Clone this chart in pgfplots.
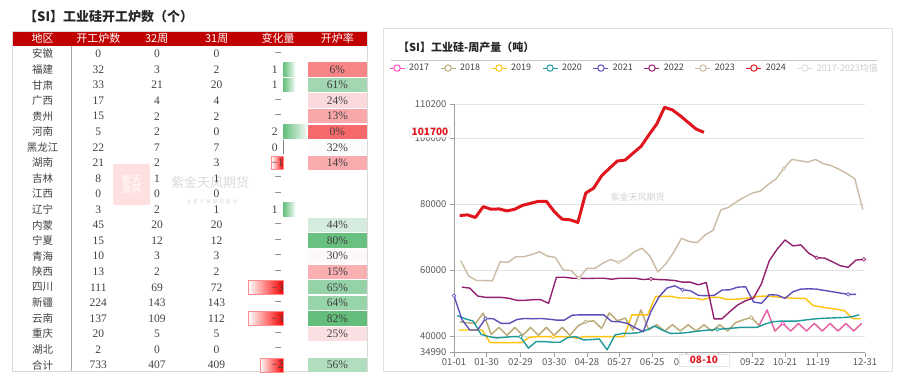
\documentclass[border=0pt]{standalone}
\usepackage{pgfplots}
\pgfplotsset{compat=1.18}
\usepackage{fontspec}
\setmainfont{Liberation Serif}
\newfontfamily\cjk{Noto Sans CJK SC}
\definecolor{hdr}{HTML}{C00000}
\definecolor{cr}{HTML}{F8696B}
\definecolor{cw}{HTML}{FCFCFF}
\definecolor{cg}{HTML}{63BE7B}
\definecolor{tc}{HTML}{404040}
\definecolor{c17}{HTML}{FF4FC3}
\definecolor{c18}{HTML}{BBAB77}
\definecolor{c19}{HTML}{FFC20E}
\definecolor{c20}{HTML}{1E9A9A}
\definecolor{c21}{HTML}{5E4FB8}
\definecolor{c22}{HTML}{92206E}
\definecolor{c23}{HTML}{CBBBA5}
\definecolor{c24}{HTML}{E0161E}
\newcommand\tsz{\fontsize{10.5}{12}\selectfont}
\newcommand\tnum{\fontsize{11.5}{13}\selectfont}
\newcommand\trow[5]{%
 \node[font=\cjk\tsz,text=tc] at (42.7,#1) {#2};
 \node[font=\tnum,text=tc] at (98.3,#1) {#3};
 \node[font=\tnum,text=tc] at (157,#1) {#4};
 \node[font=\tnum,text=tc] at (216.5,#1) {#5};}
\newcommand\rcell[3]{\fill[#3] (307.5,#1-7.2) rectangle (366.5,#1+7.2);
 \node[font=\tnum,text=tc] at (337.3,#1) {#2\%};}
\newcommand\dashc[1]{\node[font=\tnum,text=tc] at (278.3,#1) {–};}
\newcommand\posc[2]{\shade[left color=cg, right color=cg!8!white] (283.3,#1-6.8) rectangle ({283.3+11.7*#2},#1+6.8);
 \draw[cg,line width=0.6pt] (283.3,#1-6.8) -- (283.3,#1+6.8);
 \node[font=\tnum,text=tc,anchor=east,inner sep=0pt] at (277.8,#1) {#2};}
\newcommand\negc[2]{\shade[left color=white, right color=red] ({283.3-11.7*#2},#1-6.8) rectangle (283.3,#1+6.8);
 \draw[red!45,line width=0.4pt] ({283.3-11.7*#2},#1-6.8) rectangle (283.3,#1+6.8);
 \node[font=\tnum,text=tc,anchor=east,inner sep=0pt] at (283.8,#1) {−#2};}
\begin{document}
\begin{tikzpicture}
\useasboundingbox (0pt,0pt) rectangle (899pt,-377pt);
\begin{scope}[x=1pt,y=-1pt]
% ---------- left table ----------
\node[anchor=west, font=\cjk\bfseries\fontsize{13}{14}\selectfont, inner sep=0pt, text=black!85] at (24,17) {【SI】工业硅开工炉数（个）};
% watermark
\fill[red!12, rounded corners=2pt] (113,164) rectangle (150,205);
\node[font=\cjk\fontsize{10}{11}\selectfont, text=white, align=center, inner sep=0pt] at (131.5,184.5) {紫天\\[-2pt]金风};
\node[font=\cjk\fontsize{13}{14}\selectfont, text=gray!28] at (210,183) {紫金天风期货};
\node[font=\cjk\fontsize{4.5}{5}\selectfont, text=gray!35] at (212,202) {立\ \ 足\ \ 产\ \ 业\ \ 研\ \ 究\ \ 驱\ \ 动};
\fill[hdr] (12,31) rectangle (367,46);
\foreach \xx/\tt in {42.7/地区, 98.3/开工炉数, 156.7/32周, 216.7/31周, 278/变化量, 337.3/开炉率}
  \node[font=\cjk\fontsize{11}{12}\selectfont, text=white] at (\xx,38.5) {\tt};
\draw[gray!30] (12,31) rectangle (367,371);
\draw[gray!70, line width=1.2pt] (71.7,46) -- (71.7,371);
% rate cells
\rcell{69.55}{6}{cw!19!cr}
\rcell{85.1}{61}{cg!59!cw}
\rcell{100.65}{24}{cw!77!cr}
\rcell{116.2}{13}{cw!42!cr}
\rcell{131.75}{0}{cr}
\rcell{147.3}{32}{cg!2!cw}
\rcell{162.85}{14}{cw!45!cr}
\rcell{225.05}{44}{cg!25!cw}
\rcell{240.6}{80}{cg!96!cw}
\rcell{256.15}{30}{cw!97!cr}
\rcell{271.7}{15}{cw!48!cr}
\rcell{287.25}{65}{cg!67!cw}
\rcell{302.8}{64}{cg!65!cw}
\rcell{318.35}{82}{cg}
\rcell{333.9}{25}{cw!81!cr}
\rcell{365.0}{56}{cg!49!cw}
% change column
\dashc{54}
\posc{69.55}{1}
\posc{85.1}{1}
\dashc{100.65}
\dashc{116.2}
\posc{131.75}{2}
\draw[gray,line width=0.6pt] (283.3,140.3) -- (283.3,154.3);
\node[font=\tnum,text=tc,anchor=east,inner sep=0pt] at (277.8,147.3) {0};
\negc{162.85}{1}
\dashc{178.4}
\dashc{193.95}
\posc{209.5}{1}
\dashc{225.05}
\dashc{240.6}
\dashc{256.15}
\dashc{271.7}
\negc{287.25}{3}
\dashc{302.8}
\negc{318.35}{3}
\dashc{333.9}
\dashc{349.45}
\negc{365.0}{2}
% rows
\trow{54}{安徽}{0}{0}{0}
\trow{69.55}{福建}{32}{3}{2}
\trow{85.1}{甘肃}{33}{21}{20}
\trow{100.65}{广西}{17}{4}{4}
\trow{116.2}{贵州}{15}{2}{2}
\trow{131.75}{河南}{5}{2}{0}
\trow{147.3}{黑龙江}{22}{7}{7}
\trow{162.85}{湖南}{21}{2}{3}
\trow{178.4}{吉林}{8}{1}{1}
\trow{193.95}{江西}{0}{0}{0}
\trow{209.5}{辽宁}{3}{2}{1}
\trow{225.05}{内蒙}{45}{20}{20}
\trow{240.6}{宁夏}{15}{12}{12}
\trow{256.15}{青海}{10}{3}{3}
\trow{271.7}{陕西}{13}{2}{2}
\trow{287.25}{四川}{111}{69}{72}
\trow{302.8}{新疆}{224}{143}{143}
\trow{318.35}{云南}{137}{109}{112}
\trow{333.9}{重庆}{20}{5}{5}
\trow{349.45}{湖北}{2}{0}{0}
\trow{365.0}{合计}{733}{407}{409}
% ---------- right panel ----------
\draw[gray!25] (383,28) rectangle (892,371);
\node[anchor=west, font=\cjk\bfseries\fontsize{11}{12}\selectfont, inner sep=0pt, text=black!85] at (398,47.5) {【SI】工业硅-周产量（吨）};
\draw[gray!45, line width=0.6pt] (391,60) -- (877,60);
\node[font=\cjk\fontsize{9}{10}\selectfont, text=gray!35] at (637.5,197.5) {紫金天风期货};
\end{scope}
\begin{axis}[
  at={(454pt,-352.5pt)}, anchor=south west,
  scale only axis, width=411pt, height=248.2pt,
  xmin=0, xmax=365, ymin=34990, ymax=110200,
  axis lines=left, axis line style={-, draw=gray!75, line width=0.8pt},
  tick style={draw=gray!75, line width=0.6pt}, major tick length=4pt, tick align=outside,
  ytick={34990,40000,60000,80000,100000,110200},
  yticklabels={34990,40000,60000,80000,100000,110200},
  xtick={0,29,59,89,118,147,176,206,235,265,294,323,365},
  xticklabels={01-01,01-30,02-29,03-30,04-28,05-27,06-25,07-25,08-23,09-22,10-21,11-19,12-31},
  scaled y ticks=false,
  /pgf/number format/assume math mode=true,
  ymajorgrids, grid style={draw=gray!22, line width=0.7pt},
  xticklabel style={font=\cjk\fontsize{9.5}{10}\selectfont, text=black!65, yshift=1pt},
  yticklabel style={font=\cjk\fontsize{9.5}{10}\selectfont, text=black!65},
  clip=false,
  legend columns=9,
  legend style={at={(-0.158,1.146)}, anchor=west, draw=none, fill=none, inner sep=0pt, outer sep=0pt,
    font=\cjk\fontsize{9}{10}\selectfont, text=black!75,
    /tikz/every odd column/.append style={column sep=2pt},
    /tikz/every even column/.append style={column sep=9pt}},
  legend image code/.code={\draw[#1,line width=1pt] (0pt,0pt) -- (15pt,0pt);
     \draw[#1,line width=1pt,fill=white] (7.5pt,0pt) circle (3.2pt);},
  every axis plot/.append style={line join=round, mark size=1.8pt, mark options={fill=white, solid, line width=0.7pt}},
]
\addlegendimage{draw=c17}\addlegendentry{2017}
\addlegendimage{draw=c18}\addlegendentry{2018}
\addlegendimage{draw=c19}\addlegendentry{2019}
\addlegendimage{draw=c20}\addlegendentry{2020}
\addlegendimage{draw=c21}\addlegendentry{2021}
\addlegendimage{draw=c22}\addlegendentry{2022}
\addlegendimage{draw=c23}\addlegendentry{2023}
\addlegendimage{draw=c24}\addlegendentry{2024}
\addlegendimage{draw=gray!25}\addlegendentry{\textcolor{gray!40}{2017-2023均值}}
% 2018
\addplot[forget plot, c18, line width=1.5pt, mark=*, mark indices={17,38}] table[x expr=5+7*\coordindex, y=v] {
v
44300
44000
43800
46900
40500
42600
40200
42600
40200
42600
40200
42600
40200
42600
40200
43000
44300
44600
42300
47000
44600
45400
41800
47900
41800
43400
41500
43400
41500
43400
41500
43400
41500
43400
41500
44000
44900
45600
43200
47900
41500
43800
41500
43800
41500
43800
41500
43800
41500
43800
41500
43800
};
% 2017
\addplot[forget plot, c17, line width=1.0pt, mark=*, mark indices={4}] table[x expr=271+7*\coordindex, y=v] {
v
43200
47900
41500
43800
41500
43800
41500
43800
41500
43800
41500
43800
41500
43800
};
% 2019
\addplot[forget plot, c19, line width=1.4pt, mark=*, mark indices={13}] table[x expr=4+7*\coordindex, y=v] {
v
41800
41800
41800
41800
38000
38000
38000
38000
38000
39600
39800
39800
39800
39800
39800
39300
39800
39800
39800
39800
39800
39800
46400
46400
46400
52000
52000
52000
51500
51500
51400
51000
51700
51700
51100
51100
51300
51600
52000
52100
51900
51700
51500
51400
51400
49200
48800
48400
48100
47600
45300
45200
};
% 2020
\addplot[forget plot, c20, line width=1.4pt, mark=*, mark indices={9,34}] table[x expr=3+7*\coordindex, y=v] {
v
46200
45200
44500
40500
39800
39400
39600
39800
39800
36300
38300
38300
38100
38100
39500
39800
38800
38900
39100
35800
40300
40800
40800
41000
41800
43000
41800
40800
40800
41000
41300
41600
41800
42000
42200
42400
42600
42600
42600
43600
44300
44500
44500
44500
44800
45100
45300
45400
45500
45600
45800
46400
};
% 2021
\addplot[forget plot, c21, line width=1.4pt, mark=*, mark indices={1,5,30,51}] table[x expr=7*\coordindex, y=v] {
v
52200
45000
41800
41800
45300
45200
43800
43800
45000
45300
45200
45300
45100
44800
44800
46300
46400
46400
46400
46400
44400
44300
43800
42500
41300
47500
51800
54500
55200
54000
53700
52300
52200
52300
53900
54000
54800
54900
50300
49900
52500
52400
51400
53400
54200
54300
54200
53800
53400
53000
52600
52600
};
% 2022
\addplot[forget plot, c22, line width=1.4pt, mark=*, mark indices={25,46,52}] table[x expr=7+7*\coordindex, y=v] {
v
54800
54500
52100
51700
51700
51700
51400
50800
50800
51000
51000
49900
57800
57800
57500
57500
57400
57500
57500
57200
57500
57500
57500
57100
57300
57100
57000
56800
56300
56300
55500
56200
45200
45200
47400
49400
50700
51500
55800
62800
66300
69100
67300
67600
65100
63700
63600
62500
61300
60800
63000
63200
};
% 2023
\addplot[forget plot, c23, line width=1.4pt, mark=*, mark indices={16,21,42}] table[x expr=6+7*\coordindex, y=v] {
v
62800
58200
56800
56800
56700
62500
62300
64000
64000
64700
65500
64200
63800
60000
59800
57500
60500
60500
62000
63200
62300
63500
65500
66600
64200
59400
61800
65300
69600
68600
68300
70600
72000
78200
79000
80700
82100
83300
83900
85900
87600
90800
93500
93100
92700
93500
92200
91600
90500
89200
87600
78300
};
% 2024
\addplot[forget plot, c24, line width=3pt] table[x expr=5+7*\coordindex, y=v] {
v
76500
76700
75900
79200
78400
78500
77900
78400
79600
80200
80800
80800
77700
75400
75200
74400
83300
84800
88500
90800
93000
93300
95400
97400
100900
104200
109300
108500
106700
104700
102700
101700
};
\node[fill=white, draw=gray!30, rounded corners=1.5pt, inner xsep=2pt, inner ysep=1.5pt, text=c24,
      font=\cjk\bfseries\fontsize{10}{11}\selectfont] at ([xshift=-24pt]axis cs:0,101700) {101700};
\node[anchor=north, fill=white, draw=gray!20, inner xsep=11pt, inner ysep=2pt, text=c24,
      font=\cjk\bfseries\fontsize{10}{11}\selectfont] at ([yshift=-1.5pt]axis cs:222,34990) {08-10};
\end{axis}
\end{tikzpicture}
\end{document}
